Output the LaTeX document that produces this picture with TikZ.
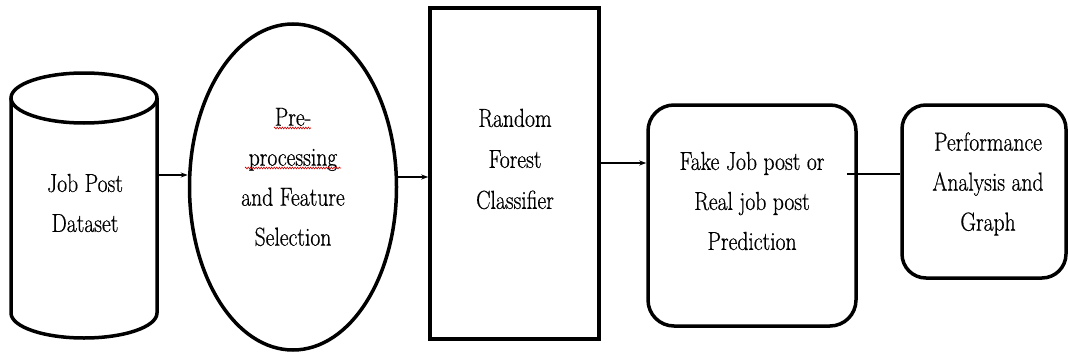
\documentclass[tikz,border=0pt]{standalone}
\usepackage{fontspec}
\newfontfamily\boxfont{Latin Modern Roman}[FakeStretch=0.83,FakeBold=0.6]
\usetikzlibrary{shapes.geometric,arrows.meta,calc,decorations.pathmorphing}
\begin{document}
\begin{tikzpicture}[x=1pt,y=-1pt,
  shapeline/.style={draw=black,line width=3.5pt},
  boxnode/.style={shapeline,inner sep=0pt,fill=white},
  boxtext/.style={align=center,inner sep=0pt,
    font=\boxfont\fontsize{26}{40}\selectfont},
  flow/.style={draw=black,line width=1.4pt,-{Stealth[length=7pt,width=5pt]}},
  plainflow/.style={draw=black,line width=1.4pt},
  spell/.style={draw=red!80!black,line width=0.6pt,decorate,
    decoration={zigzag,amplitude=0.9pt,segment length=2.6pt}}]
  \useasboundingbox (0,0) rectangle (1068,356);
  \fill[white] (0,0) rectangle (1068,356);

  % dataset cylinder
  \draw[shapeline,fill=white] (11,98) -- (11,313)
    arc[start angle=180,end angle=360,x radius=73,y radius=-25]
    -- (157,98);
  \draw[shapeline] (84,98) ellipse[x radius=73,y radius=25];
  \node[minimum width=146pt,minimum height=265pt,inner sep=0pt] (db) at (84,205.5) {};
  \node[boxtext] (dbtxt) at (85,203) {Job Post\\Dataset};

  % preprocessing ellipse
  \node[boxnode,ellipse,minimum width=207pt,minimum height=326pt] (pre) at (293,187) {};
  \node[boxtext] (pretxt) at (293,177) {Pre-\\processing\\and Feature\\Selection};
  \draw[spell] (274,128) -- (311,128);
  \draw[spell] (245,168) -- (341,168);

  % classifier
  \node[boxnode,rectangle,minimum width=169pt,minimum height=331pt] (rf) at (514.5,173.5) {};
  \node[boxtext,font=\boxfont\fontsize{26}{41}\selectfont] (rftxt) at (515,159) {Random\\Forest\\Classifier};

  % prediction
  \node[boxnode,rectangle,rounded corners=26pt,minimum width=208pt,minimum height=221pt] (pred) at (752,215.5) {};
  \node[boxtext] (predtxt) at (752,201) {Fake Job post or\\Real job post\\Prediction};

  % performance
  \node[boxnode,rectangle,rounded corners=24pt,minimum width=164pt,minimum height=173pt] (perf) at (984,191.5) {};
  \node[boxtext] (perftxt) at (988,184) {Performance\\Analysis and\\Graph};

  % connectors
  \draw[flow] (db.east |- 0,175) -- (pre.west |- 0,175);
  \draw[flow] (pre.east |- 0,177) -- (rf.west |- 0,177);
  \draw[flow] (rf.east |- 0,163) -- (pred.west |- 0,163);
  \draw[plainflow] ($(pred.east |- 0,174)+(-11,0)$) -- (perf.west |- 0,174);
\end{tikzpicture}
\end{document}
